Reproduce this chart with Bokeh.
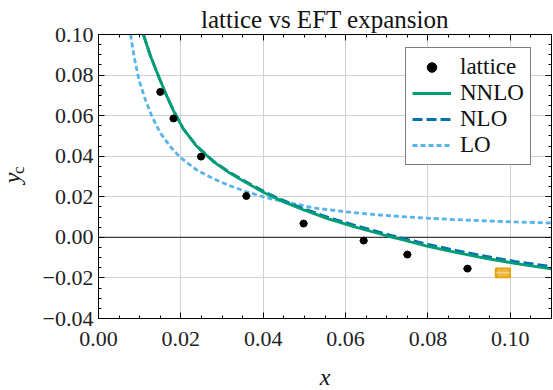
import math
from bokeh.plotting import figure
from bokeh.layouts import row
from bokeh.models import (Range1d, FixedTicker, CustomJSTickFormatter, Span, Legend,
                          LegendItem, Label, LinearAxis, ColumnDataSource)
from bokeh.core.properties import value
from bokeh.embed import file_html
from bokeh.resources import INLINE

# ---------------- data ----------------
lat_x = [0.0150, 0.0182, 0.0249, 0.0359, 0.0498, 0.0644, 0.0750, 0.0896]
lat_y = [0.0717, 0.0586, 0.0398, 0.0204, 0.0068, -0.0016, -0.0085, -0.0154]
lat_xerr = [0.0009, 0.0009, 0.0010, 0.0010, 0.0010, 0.0010, 0.0010, 0.0011]

extra_x = [0.0982]
extra_y = [-0.0175]
extra_xerr = [0.0017]
extra_yerr = [0.0023]

nnlo_x = [0.0109, 0.0126, 0.0146, 0.0164, 0.0182, 0.0206, 0.0238, 0.0278, 0.0318, 0.0358,
          0.0406, 0.0450, 0.0500, 0.0560, 0.0620, 0.0680, 0.0714, 0.0740, 0.0800, 0.0870,
          0.0940, 0.1010, 0.1100]
nnlo_y = [0.1000, 0.0895, 0.0793, 0.0705, 0.0625, 0.0535, 0.0450, 0.0375, 0.0318, 0.0270,
          0.0216, 0.0175, 0.0134, 0.0090, 0.0053, 0.0019, 0.0000, -0.0013, -0.0044, -0.0075,
          -0.0103, -0.0128, -0.0155]

nlo_x = [0.0109, 0.0126, 0.0146, 0.0164, 0.0182, 0.0206, 0.0238, 0.0278, 0.0318, 0.0358,
         0.0406, 0.0450, 0.0500, 0.0560, 0.0620, 0.0680, 0.0714, 0.0740, 0.0800, 0.0870,
         0.0940, 0.1010, 0.1100]
nlo_y = [0.1000, 0.0895, 0.0793, 0.0705, 0.0625, 0.0535, 0.0451, 0.0377, 0.0321, 0.0274,
         0.0221, 0.0181, 0.0140, 0.0097, 0.0061, 0.0027, 0.0008, -0.0005, -0.0035, -0.0065,
         -0.0093, -0.0118, -0.0144]

lo_x = [0.0078, 0.0086, 0.0098, 0.0114, 0.0130, 0.0150, 0.0174, 0.0198, 0.0238, 0.0278,
        0.0318, 0.0358, 0.0406, 0.0450, 0.0530, 0.0610, 0.0690, 0.0770, 0.0850, 0.0930,
        0.1010, 0.1100]
lo_y = [0.1000, 0.0895, 0.0778, 0.0677, 0.0595, 0.0515, 0.0448, 0.0395, 0.0333, 0.0290,
        0.0255, 0.0226, 0.0196, 0.0176, 0.0143, 0.0124, 0.0109, 0.0098, 0.0089, 0.0082,
        0.0076, 0.0071]

x_ticks = [0.00, 0.02, 0.04, 0.06, 0.08, 0.10]
x_minor = [0.000, 0.005, 0.010, 0.015, 0.020, 0.025, 0.030, 0.035, 0.040, 0.045, 0.050,
           0.055, 0.060, 0.065, 0.070, 0.075, 0.080, 0.085, 0.090, 0.095, 0.100, 0.105, 0.110]
y_ticks = [-0.04, -0.02, 0.00, 0.02, 0.04, 0.06, 0.08, 0.10]
y_minor = [-0.040, -0.035, -0.030, -0.025, -0.020, -0.015, -0.010, -0.005, 0.000, 0.005,
           0.010, 0.015, 0.020, 0.025, 0.030, 0.035, 0.040, 0.045, 0.050, 0.055, 0.060,
           0.065, 0.070, 0.075, 0.080, 0.085, 0.090, 0.095, 0.100]

x_range = (0.0, 0.11)
y_range = (-0.04, 0.10)

title_text = "lattice vs EFT expansion"
x_label = "x"
y_label_main = "y"
y_label_sub = "c"
legend_labels = ["lattice", "NNLO", "NLO", "LO"]

# ---------------- styling ----------------
FONT = "Liberation Serif"
GREEN = "#009E73"
BLUE = "#0072B2"
SKY = "#56B4E9"
ORANGE = "#E69F00"
ERR = "#3f5fa6"
TXT = "#111111"
STRIP_W = 28

# ---------------- narrow strip holding the rotated y-axis label ----------------
lab = figure(width=STRIP_W, height=390, x_range=Range1d(0, STRIP_W), y_range=Range1d(0, 390),
             output_backend="svg", toolbar_location=None,
             min_border_left=0, min_border_right=0, min_border_top=0, min_border_bottom=0)
lab.axis.visible = False
lab.grid.visible = False
lab.outline_line_color = None
lab.background_fill_color = "white"
lab.border_fill_color = "white"
lab.text(x=[11.4], y=[390 - 197], text=[y_label_main], angle=math.pi / 2,
         text_font=value(FONT), text_font_size="24px", text_font_style="italic",
         text_align="center", text_baseline="middle", text_color=TXT)
lab.text(x=[17.8], y=[390 - 186.5], text=[y_label_sub], angle=math.pi / 2,
         text_font=value(FONT), text_font_size="17px", text_font_style="normal",
         text_align="center", text_baseline="middle", text_color=TXT)

# ---------------- main plot ----------------
p = figure(width=553 - STRIP_W, height=390, x_range=Range1d(*x_range), y_range=Range1d(*y_range),
           output_backend="svg", toolbar_location=None,
           min_border_left=96 - STRIP_W, min_border_right=2, min_border_top=34,
           min_border_bottom=72)
p.outline_line_color = "black"
p.outline_line_width = 1
p.background_fill_color = "white"

p.title.text = title_text
p.title.align = "center"
p.title.text_font = FONT
p.title.text_font_size = "25px"
p.title.text_font_style = "normal"
p.title.text_color = TXT
p.title.standoff = 4

xt = FixedTicker(ticks=x_ticks, minor_ticks=x_minor)
yt = FixedTicker(ticks=y_ticks, minor_ticks=y_minor)
fmt_code = "return tick.toFixed(2).replace('-', '\\u2212');"

# mirrored axes
p.add_layout(LinearAxis(), "right")
p.add_layout(LinearAxis(), "above")

for ax in p.xaxis:
    ax.ticker = xt
for ax in p.yaxis:
    ax.ticker = yt

for ax in list(p.xaxis) + list(p.yaxis):
    ax.axis_line_color = "black"
    ax.axis_line_width = 1
    ax.major_tick_in = 6
    ax.major_tick_out = 0
    ax.minor_tick_in = 3
    ax.minor_tick_out = 0
    ax.major_tick_line_color = "black"
    ax.minor_tick_line_color = "black"
    ax.major_tick_line_width = 1
    ax.minor_tick_line_width = 1
    ax.major_label_text_font = FONT
    ax.major_label_text_color = "#222222"

xa = p.below[0]
xa.formatter = CustomJSTickFormatter(code=fmt_code)
xa.major_label_text_font_size = "22px"
xa.major_label_standoff = 13

ya = p.left[0]
ya.formatter = CustomJSTickFormatter(code=fmt_code)
ya.major_label_text_font_size = "22px"
ya.major_label_standoff = 5

for ax in (p.right[0], p.above[0]):
    ax.formatter = CustomJSTickFormatter(code="return '';")
    ax.major_label_text_font_size = "0px"
    ax.major_label_standoff = 0

p.xgrid.ticker = xt
p.ygrid.ticker = yt
p.xgrid.grid_line_color = "#d2d2d2"
p.ygrid.grid_line_color = "#d2d2d2"
p.xgrid.grid_line_width = 1
p.ygrid.grid_line_width = 1

p.add_layout(Span(location=0, dimension="width", line_color="#3a3a3a", line_width=1.4,
                  level="underlay"))

# ---------------- glyphs ----------------
lat_src = ColumnDataSource(dict(
    x=lat_x, y=lat_y,
    xl=[a - e for a, e in zip(lat_x, lat_xerr)],
    xu=[a + e for a, e in zip(lat_x, lat_xerr)]))

ex_src = ColumnDataSource(dict(
    x=extra_x, y=extra_y,
    l=[a - e for a, e in zip(extra_x, extra_xerr)],
    r=[a + e for a, e in zip(extra_x, extra_xerr)],
    b=[a - e for a, e in zip(extra_y, extra_yerr)],
    t=[a + e for a, e in zip(extra_y, extra_yerr)]))

r_lo = p.line(lo_x, lo_y, line_color=SKY, line_width=2.8, line_dash="5 3")
r_nlo = p.line(nlo_x, nlo_y, line_color=BLUE, line_width=2.8, line_dash="10 4")
r_nnlo = p.line(nnlo_x, nnlo_y, line_color=GREEN, line_width=2.8)

p.segment(x0="xl", y0="y", x1="xu", y1="y", source=lat_src, line_color=ERR, line_width=1.6)
r_lat = p.scatter(x="x", y="y", source=lat_src, size=7, fill_color="black", line_color="black")

p.quad(left="l", right="r", bottom="b", top="t", source=ex_src, fill_color=ORANGE,
       fill_alpha=0.75, line_color=ORANGE, line_width=1.5)
p.segment(x0="l", y0="b", x1="l", y1="t", source=ex_src, line_color=ORANGE, line_width=2.2)
p.segment(x0="r", y0="b", x1="r", y1="t", source=ex_src, line_color=ORANGE, line_width=2.2)
p.segment(x0="l", y0="y", x1="r", y1="y", source=ex_src, line_color="#f8dfa8", line_width=1)

# ---------------- legend ----------------
legend = Legend(items=[LegendItem(label=legend_labels[0], renderers=[r_lat]),
                       LegendItem(label=legend_labels[1], renderers=[r_nnlo]),
                       LegendItem(label=legend_labels[2], renderers=[r_nlo]),
                       LegendItem(label=legend_labels[3], renderers=[r_lo])],
                location=(307, 153))
legend.label_text_font = FONT
legend.label_text_font_size = "23px"
legend.label_text_color = TXT
legend.glyph_width = 39
legend.glyph_height = 24
legend.label_height = 24
legend.spacing = 0
legend.padding = 6
legend.margin = 0
legend.label_standoff = 9
legend.border_line_color = "black"
legend.border_line_width = 1
legend.background_fill_color = "white"
legend.background_fill_alpha = 1
p.add_layout(legend, "center")

# x-axis label: a Label kept in the left side panel so it is not clipped to the frame
p.add_layout(Label(x=0.055, y=-0.0688, text=x_label, text_align="center",
                   text_baseline="middle", text_font=FONT, text_font_size="24px",
                   text_font_style="italic", text_color=TXT), "left")

layout = row(lab, p)
open("out.html", "w").write(file_html(layout, INLINE))
